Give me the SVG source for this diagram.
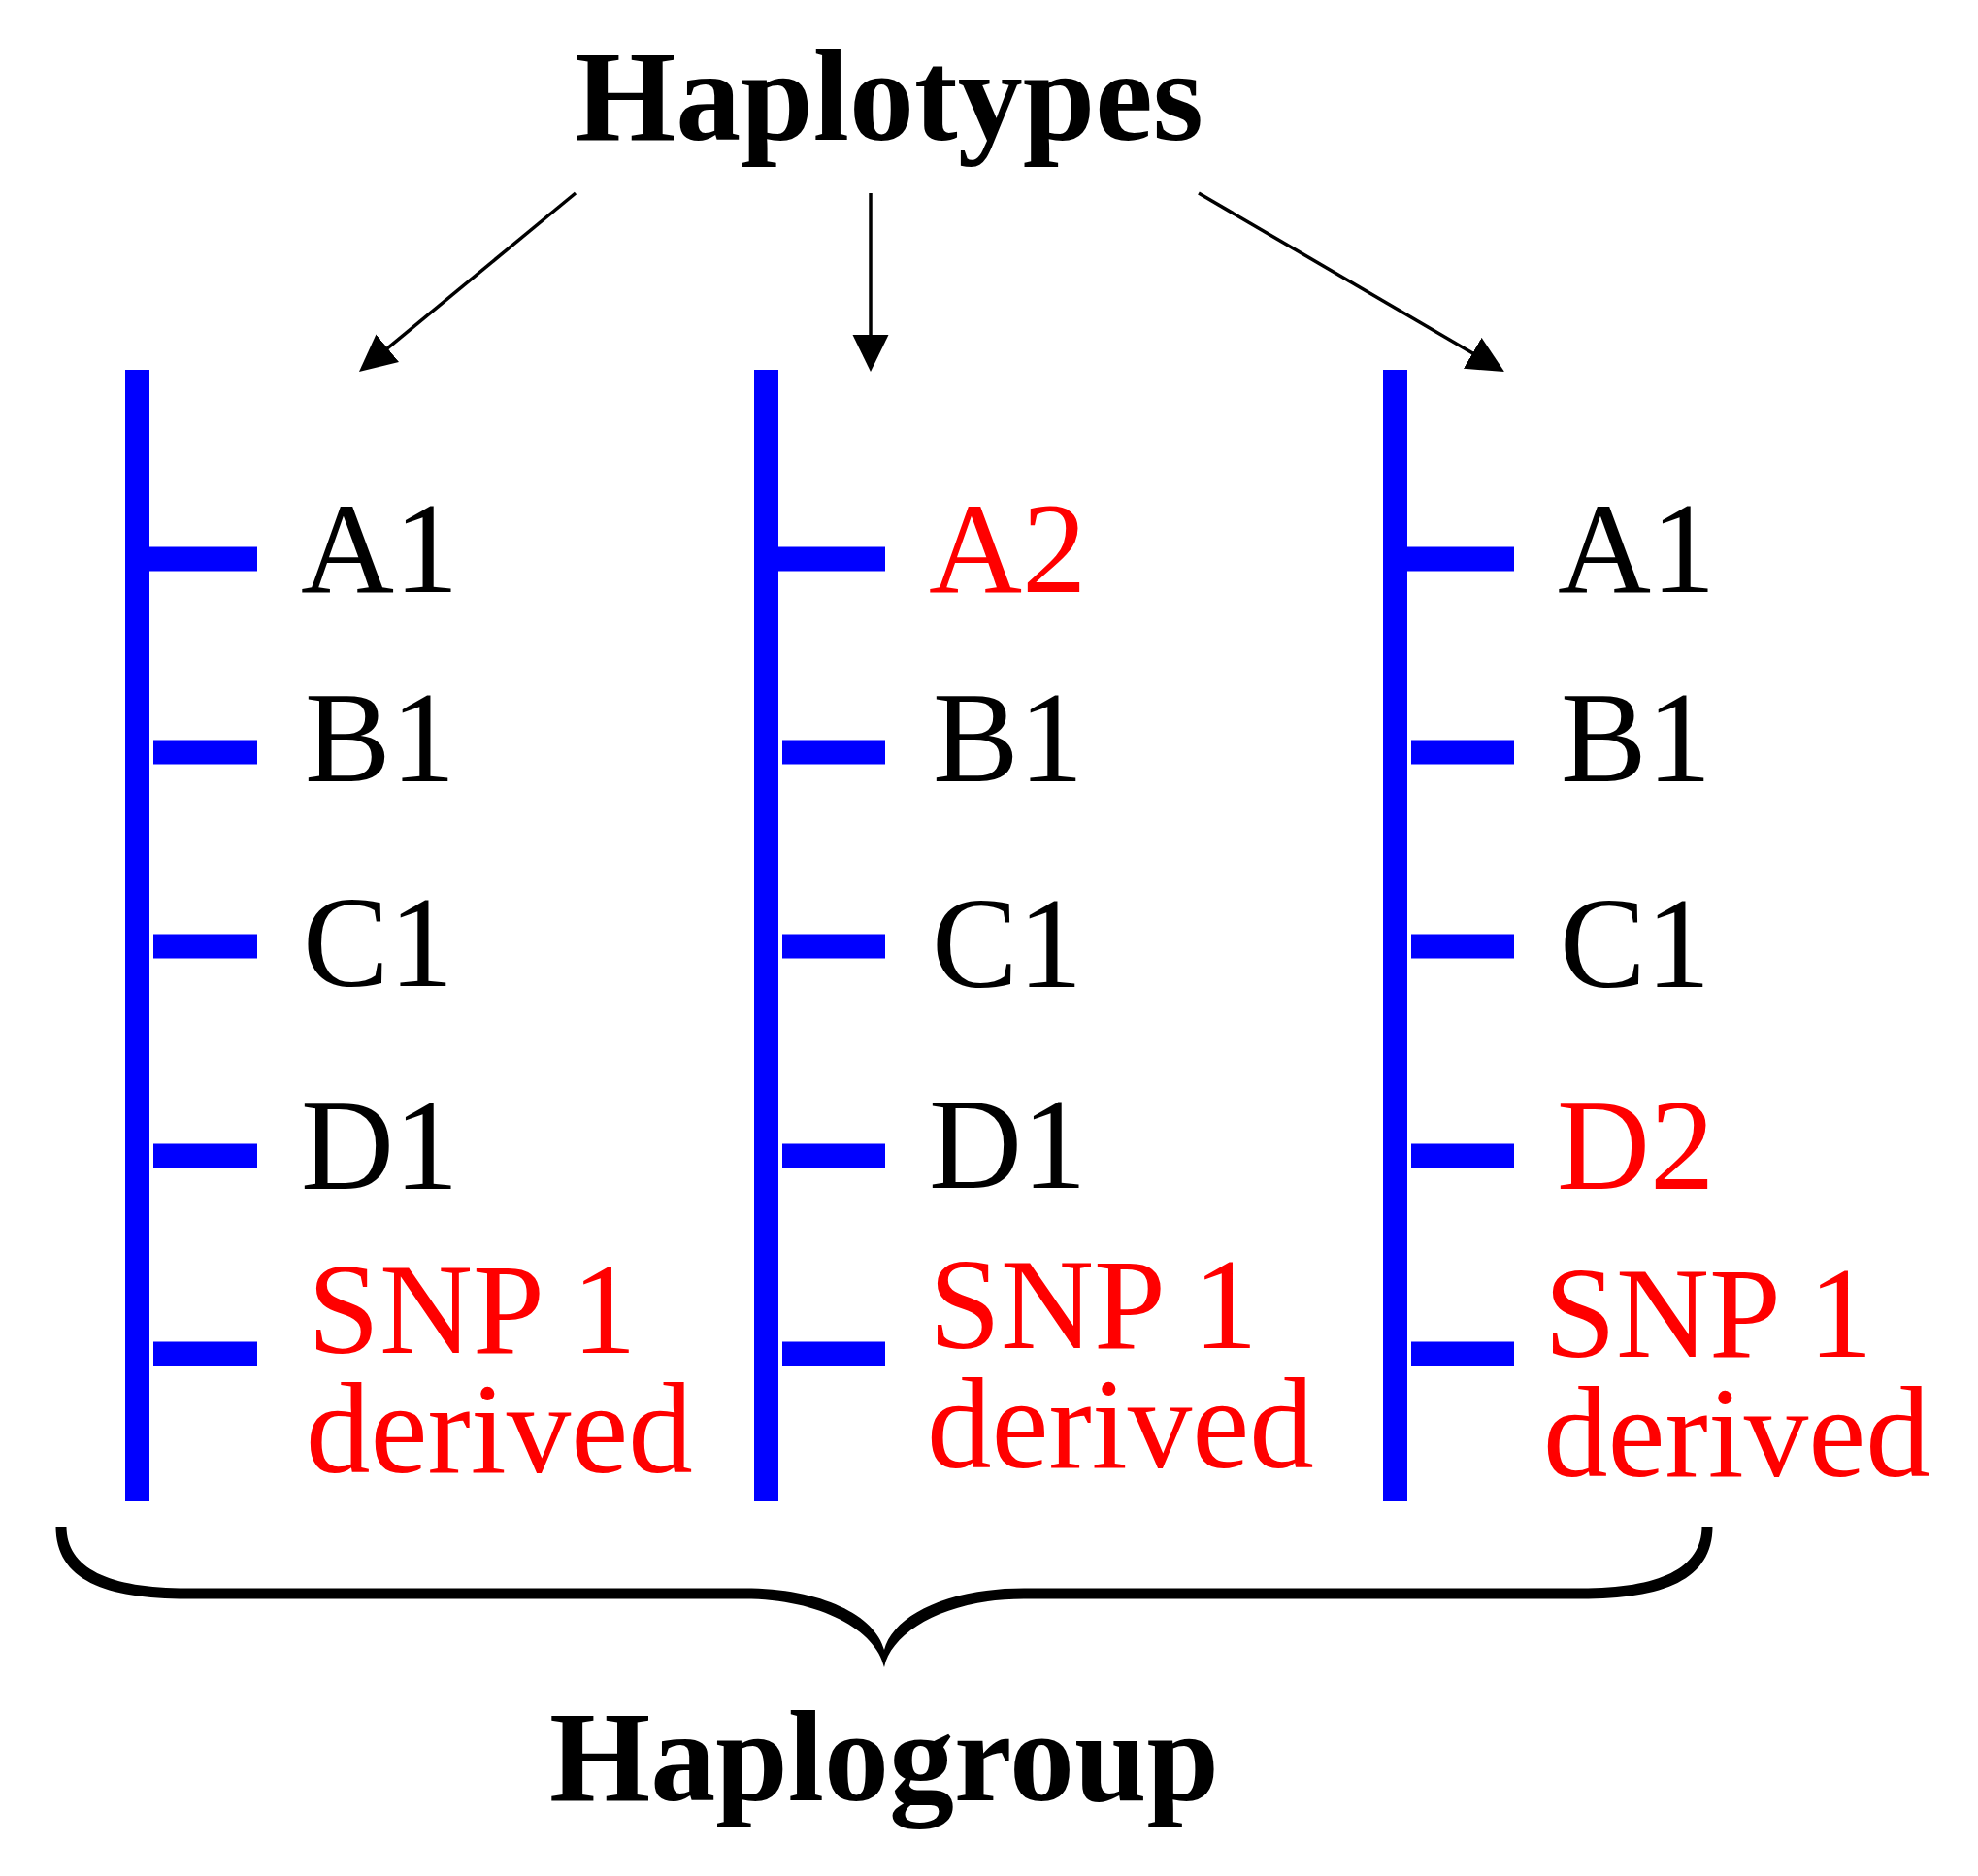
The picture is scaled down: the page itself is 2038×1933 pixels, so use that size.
<svg xmlns="http://www.w3.org/2000/svg" width="2038" height="1933" viewBox="0 0 2038 1933">
  <defs>
    <style>
      .title { font-family: "Liberation Serif", "Times New Roman", serif; font-weight: bold; font-size: 134px; fill: #000; text-anchor: middle; }
      .lab { font-family: "Liberation Serif", "Times New Roman", serif; font-size: 133px; fill: #000; }
      .red { fill: #FF0000; }
      .bar { fill: #0000FF; }
      .arrow { stroke: #000; stroke-width: 3.5; fill: none; marker-end: url(#ah); }
    </style>
    <marker id="ah" markerUnits="userSpaceOnUse" markerWidth="40" markerHeight="40" refX="28" refY="18.5" orient="auto" viewBox="0 0 40 40">
      <path d="M0,0 L38,18.5 L0,37 Z" fill="#000"/>
    </marker>
  </defs>
  <rect width="2038" height="1933" fill="#fff"/>

  <g id="haplotypes-title">
    <text class="title" x="916" y="144">Haplotypes</text>
  </g>

  <g id="connectors">
    <line class="arrow" x1="593" y1="199" x2="377.7" y2="376.6"/>
    <line class="arrow" x1="897" y1="199" x2="897" y2="373"/>
    <line class="arrow" x1="1235" y1="199" x2="1541.4" y2="378"/>
  </g>

  <g id="haplotype-1">
    <rect class="bar" x="129" y="381" width="25" height="1166"/>
    <rect class="bar" x="154" y="563.5" width="111" height="25"/>
    <rect class="bar" x="158" y="762.5" width="107" height="25"/>
    <rect class="bar" x="158" y="962.5" width="107" height="25"/>
    <rect class="bar" x="158" y="1178.5" width="107" height="25"/>
    <rect class="bar" x="158" y="1382.5" width="107" height="25"/>
    <text class="lab" x="310" y="610">A1</text>
    <text class="lab" x="314" y="805">B1</text>
    <text class="lab" x="312" y="1016">C1</text>
    <text class="lab" x="310" y="1225">D1</text>
    <text class="lab red"><tspan x="317" y="1394">SNP 1</tspan><tspan x="315" y="1517">derived</tspan></text>
  </g>

  <g id="haplotype-2">
    <rect class="bar" x="777" y="381" width="25" height="1166"/>
    <rect class="bar" x="802" y="563.5" width="110" height="25"/>
    <rect class="bar" x="806" y="762.5" width="106" height="25"/>
    <rect class="bar" x="806" y="962.5" width="106" height="25"/>
    <rect class="bar" x="806" y="1178.5" width="106" height="25"/>
    <rect class="bar" x="806" y="1382.5" width="106" height="25"/>
    <text class="lab red" x="957" y="610">A2</text>
    <text class="lab" x="961" y="805">B1</text>
    <text class="lab" x="960" y="1017">C1</text>
    <text class="lab" x="957" y="1224">D1</text>
    <text class="lab red"><tspan x="957" y="1389">SNP 1</tspan><tspan x="955" y="1512">derived</tspan></text>
  </g>

  <g id="haplotype-3">
    <rect class="bar" x="1425" y="381" width="25" height="1166"/>
    <rect class="bar" x="1450" y="563.5" width="110" height="25"/>
    <rect class="bar" x="1454" y="762.5" width="106" height="25"/>
    <rect class="bar" x="1454" y="962.5" width="106" height="25"/>
    <rect class="bar" x="1454" y="1178.5" width="106" height="25"/>
    <rect class="bar" x="1454" y="1382.5" width="106" height="25"/>
    <text class="lab" x="1605" y="610">A1</text>
    <text class="lab" x="1608" y="805">B1</text>
    <text class="lab" x="1607" y="1017">C1</text>
    <text class="lab red" x="1604" y="1225">D2</text>
    <text class="lab red"><tspan x="1591" y="1398">SNP 1</tspan><tspan x="1590" y="1521">derived</tspan></text>
  </g>

  <g id="brace">
    <path fill="#000" d="M57.5,1573 C57.5,1628 108,1647.5 193,1647.5 L767,1647.5 C845,1647.5 903,1680 911,1718 C919,1680 977,1647.5 1055,1647.5 L1629,1647.5 C1714,1647.5 1764.5,1628 1764.5,1573 L1753.5,1573 C1753.5,1616 1710,1636.5 1629,1636.5 L1055,1636.5 C975,1636.5 920,1665 911,1700 C902,1665 847,1636.5 767,1636.5 L193,1636.5 C112,1636.5 68.5,1616 68.5,1573 Z"/>
  </g>

  <g id="haplogroup-title">
    <text class="title" x="911" y="1855">Haplogroup</text>
  </g>
</svg>
